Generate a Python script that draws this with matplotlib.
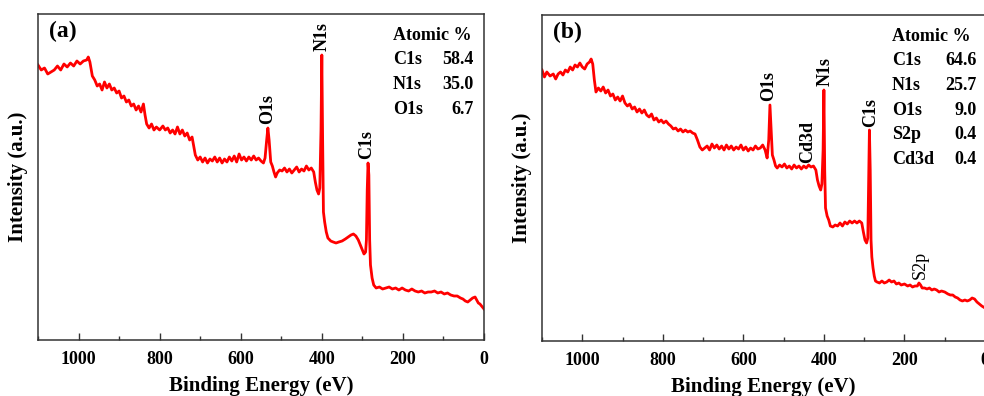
import numpy as np
import matplotlib
matplotlib.use('Agg')
import matplotlib.pyplot as plt
from matplotlib.ticker import MultipleLocator

plt.rcParams['font.family'] = ['Liberation Serif', 'DejaVu Serif']
plt.rcParams['font.weight'] = 'bold'

# survey spectrum (a): binding energy (eV) and intensity (a.u.)
energy_a = [1100, 1092, 1084, 1076, 1068, 1060, 1052, 1044, 1036, 1028, 1020, 1012, 1004, 996, 988, 980, 976, 972,
            966, 960, 954, 948, 942, 936, 930, 924, 918, 912, 906, 900, 894, 888, 882, 876, 870, 864, 858, 852,
            846, 840, 836, 832, 826, 820, 814, 808, 800, 792, 786, 780, 774, 768, 762, 756, 750, 744, 738, 732,
            726, 720, 716, 712, 706, 700, 694, 688, 682, 676, 670, 664, 658, 652, 646, 640, 634, 628, 622, 616,
            610, 604, 598, 592, 586, 580, 574, 568, 562, 556, 550, 544, 540, 536, 533, 530, 526, 522, 518, 514,
            510, 504, 498, 492, 486, 480, 474, 468, 462, 456, 450, 444, 438, 432, 426, 420, 416, 412, 408, 405,
            402, 400, 398, 396, 393, 389, 385, 378, 372, 365, 358, 350, 342, 335, 328, 322, 316, 310, 304, 300,
            296, 292, 290, 288, 286, 284, 282, 280, 276, 272, 266, 258, 250, 242, 234, 226, 218, 210, 202, 194,
            186, 178, 170, 162, 154, 146, 138, 130, 122, 114, 106, 98, 90, 82, 74, 66, 58, 52, 46, 40, 34, 28,
            22, 18, 14, 10, 6, 2, 0]
counts_a = [275, 270, 272, 266, 268, 270, 274, 270, 276, 273, 277, 274, 279, 276, 279, 280, 283, 278,
            264, 260, 254, 256, 250, 258, 252, 256, 250, 252, 247, 249, 242, 244, 238, 240, 234, 236, 230, 234,
            228, 236, 225, 216, 212, 216, 210, 213, 210, 214, 210, 212, 207, 210, 206, 213, 206, 210, 204, 207,
            200, 203, 194, 185, 180, 183, 178, 182, 177, 181, 179, 183, 178, 182, 177, 181, 178, 183, 179, 184,
            178, 186, 180, 183, 179, 183, 180, 184, 180, 182, 179, 177, 182, 200, 212, 200, 178, 174, 168, 163,
            167, 170, 169, 172, 168, 171, 167, 170, 173, 168, 171, 169, 174, 170, 172, 168, 158, 150, 146, 152,
            210, 285, 200, 128, 118, 108, 102, 99, 98, 97, 98, 99, 101, 103, 105, 106, 104, 100, 94, 90,
            86, 88, 100, 150, 177, 165, 100, 75, 62, 55, 52, 53, 51, 52, 53, 51, 52, 50, 52, 50,
            49, 51, 49, 48, 49, 47, 48, 48, 49, 47, 48, 46, 47, 45, 44, 44, 42, 41, 39, 38, 40, 42,
            43, 40, 37, 36, 34, 32, 31]

# survey spectrum (b)
energy_b = [1100, 1094, 1088, 1080, 1072, 1066, 1060, 1054, 1048, 1042, 1036, 1030, 1024, 1018, 1012, 1006, 1000,
            994, 988, 982, 978, 974, 970, 966, 960, 954, 948, 942, 936, 930, 924, 918, 912, 906, 900, 894, 888,
            882, 876, 870, 864, 858, 852, 846, 840, 834, 828, 822, 816, 810, 804, 798, 792, 786, 780, 774, 768,
            762, 756, 750, 744, 738, 732, 726, 720, 714, 708, 702, 696, 690, 684, 678, 672, 666, 660, 654, 648,
            642, 636, 630, 624, 618, 612, 606, 600, 594, 588, 582, 576, 570, 564, 558, 552, 546, 541, 537, 534,
            531, 528, 524, 520, 516, 510, 504, 498, 492, 486, 480, 474, 468, 462, 456, 450, 444, 438, 432, 426,
            420, 416, 412, 408, 405, 402, 400, 398, 396, 392, 388, 384, 378, 372, 366, 360, 354, 348, 342, 336,
            330, 324, 318, 312, 306, 302, 298, 294, 291, 289, 287, 285, 283, 281, 278, 275, 272, 268, 262, 256,
            250, 244, 238, 232, 226, 220, 214, 208, 200, 192, 186, 180, 174, 168, 164, 160, 156, 150, 144, 138,
            132, 126, 120, 114, 108, 100, 92, 86, 80, 74, 68, 62, 56, 50, 44, 38, 32, 26, 20, 14, 8, 4, 0]
counts_b = [271, 264, 269, 265, 267, 262, 267, 269, 266, 271, 269, 274, 271, 276, 274, 278, 274,
            272, 277, 279, 282, 277, 261, 249, 253, 250, 254, 248, 251, 245, 247, 241, 244, 240, 245, 238, 235,
            237, 232, 234, 229, 232, 228, 231, 226, 224, 227, 221, 223, 219, 221, 218, 220, 217, 215, 212, 213,
            210, 212, 209, 211, 209, 210, 208, 207, 201, 194, 191, 193, 195, 191, 197, 193, 196, 192, 195, 191,
            196, 192, 195, 191, 194, 192, 196, 191, 194, 190, 193, 191, 195, 192, 193, 196, 191, 183, 201, 236,
            211, 186, 181, 175, 173, 176, 174, 177, 173, 175, 172, 176, 173, 175, 172, 175, 173, 176, 174, 175,
            171, 161, 155, 151, 157, 191, 251, 171, 133, 125, 121, 115, 114, 116, 115, 118, 115, 119, 117, 120,
            118, 120, 118, 120, 118, 109, 101, 98, 103, 161, 211, 171, 101, 84, 73, 65, 60, 59, 58, 60,
            58, 59, 61, 59, 60, 57, 58, 56, 57, 55, 56, 54, 55, 55, 58, 56, 53, 53, 52, 53,
            51, 52, 51, 49, 50, 49, 47, 46, 46, 44, 43, 41, 40, 41, 40, 41, 43, 42, 39, 37, 35, 34, 33]

# peak labels: (text, energy, intensity, bold)
peaks_a = [('O1s', 533, 216, True), ('N1s', 400, 289, True), ('C1s', 289, 181, True)]
peaks_b = [('O1s', 537, 240, True), ('Cd3d', 440, 178, True), ('N1s', 397, 255, True),
           ('C1s', 285, 214, True), ('S2p', 160, 62, False)]

# surface composition tables
elements_a = ['C1s', 'N1s', 'O1s']
atomic_a = ['58.4', '35.0', '6.7']
elements_b = ['C1s', 'N1s', 'O1s', 'S2p', 'Cd3d']
atomic_b = ['64.6', '25.7', '9.0', '0.4', '0.4']

W, H = 984, 396
fig = plt.figure(figsize=(W / 100, H / 100), dpi=100)


def make_axes(left, top, right, bottom):
    return fig.add_axes([left / W, 1 - bottom / H, (right - left) / W, (bottom - top) / H])


def draw_panel(ax, energy, counts, peaks, elements, atomic, tag, table_x, num_x):
    ax.plot(energy, counts, color='#ff0000', linewidth=2.0)
    ax.set_xlim(1100, 0)
    ax.set_ylim(0, 326)
    ax.xaxis.set_major_locator(MultipleLocator(200))
    ax.xaxis.set_minor_locator(MultipleLocator(100))
    ax.tick_params(axis='x', which='major', direction='in', length=5, width=1, labelsize=13, pad=8,
                   top=False, color='#333333')
    ax.tick_params(axis='x', which='minor', direction='in', length=3, width=1, top=False, color='#333333')
    ax.set_yticks([])
    for lbl in ax.get_xticklabels():
        lbl.set_fontweight('bold')
    for sp in ax.spines.values():
        sp.set_color('#333333')
        sp.set_linewidth(1.1)
    ax.set_xlabel('Binding Energy (eV)', fontsize=15, fontweight='bold', labelpad=6)
    ax.set_ylabel('Intensity (a.u.)', fontsize=15, fontweight='bold', labelpad=7)
    ax.text(0.024, 0.945, tag, transform=ax.transAxes, fontsize=17, fontweight='bold', va='center', ha='left')

    for name, e, c, bold in peaks:
        ax.text(e, c, name, rotation=90, ha='center', va='bottom', fontsize=13,
                fontweight='bold' if bold else 'normal')

    y0 = 0.935
    ax.text(table_x, y0, 'Atomic %', transform=ax.transAxes, fontsize=13, fontweight='bold', va='center')
    for i, (el, val) in enumerate(zip(elements, atomic)):
        y = y0 - (i + 1) * 0.0755
        ax.text(table_x, y, el, transform=ax.transAxes, fontsize=13, fontweight='bold', va='center')
        ax.text(num_x, y, val, transform=ax.transAxes, fontsize=13, fontweight='bold', va='center', ha='right')


ax_a = make_axes(38, 14, 484, 340)
draw_panel(ax_a, energy_a, counts_a, peaks_a, elements_a, atomic_a, '(a)',
           (393 - 38) / 446, (474 - 38) / 446)

ax_b = make_axes(542, 15, 985, 341)
draw_panel(ax_b, energy_b, counts_b, peaks_b, elements_b, atomic_b, '(b)',
           (892 - 542) / 443, (977 - 542) / 443)

fig.savefig('out.png', dpi=100)
